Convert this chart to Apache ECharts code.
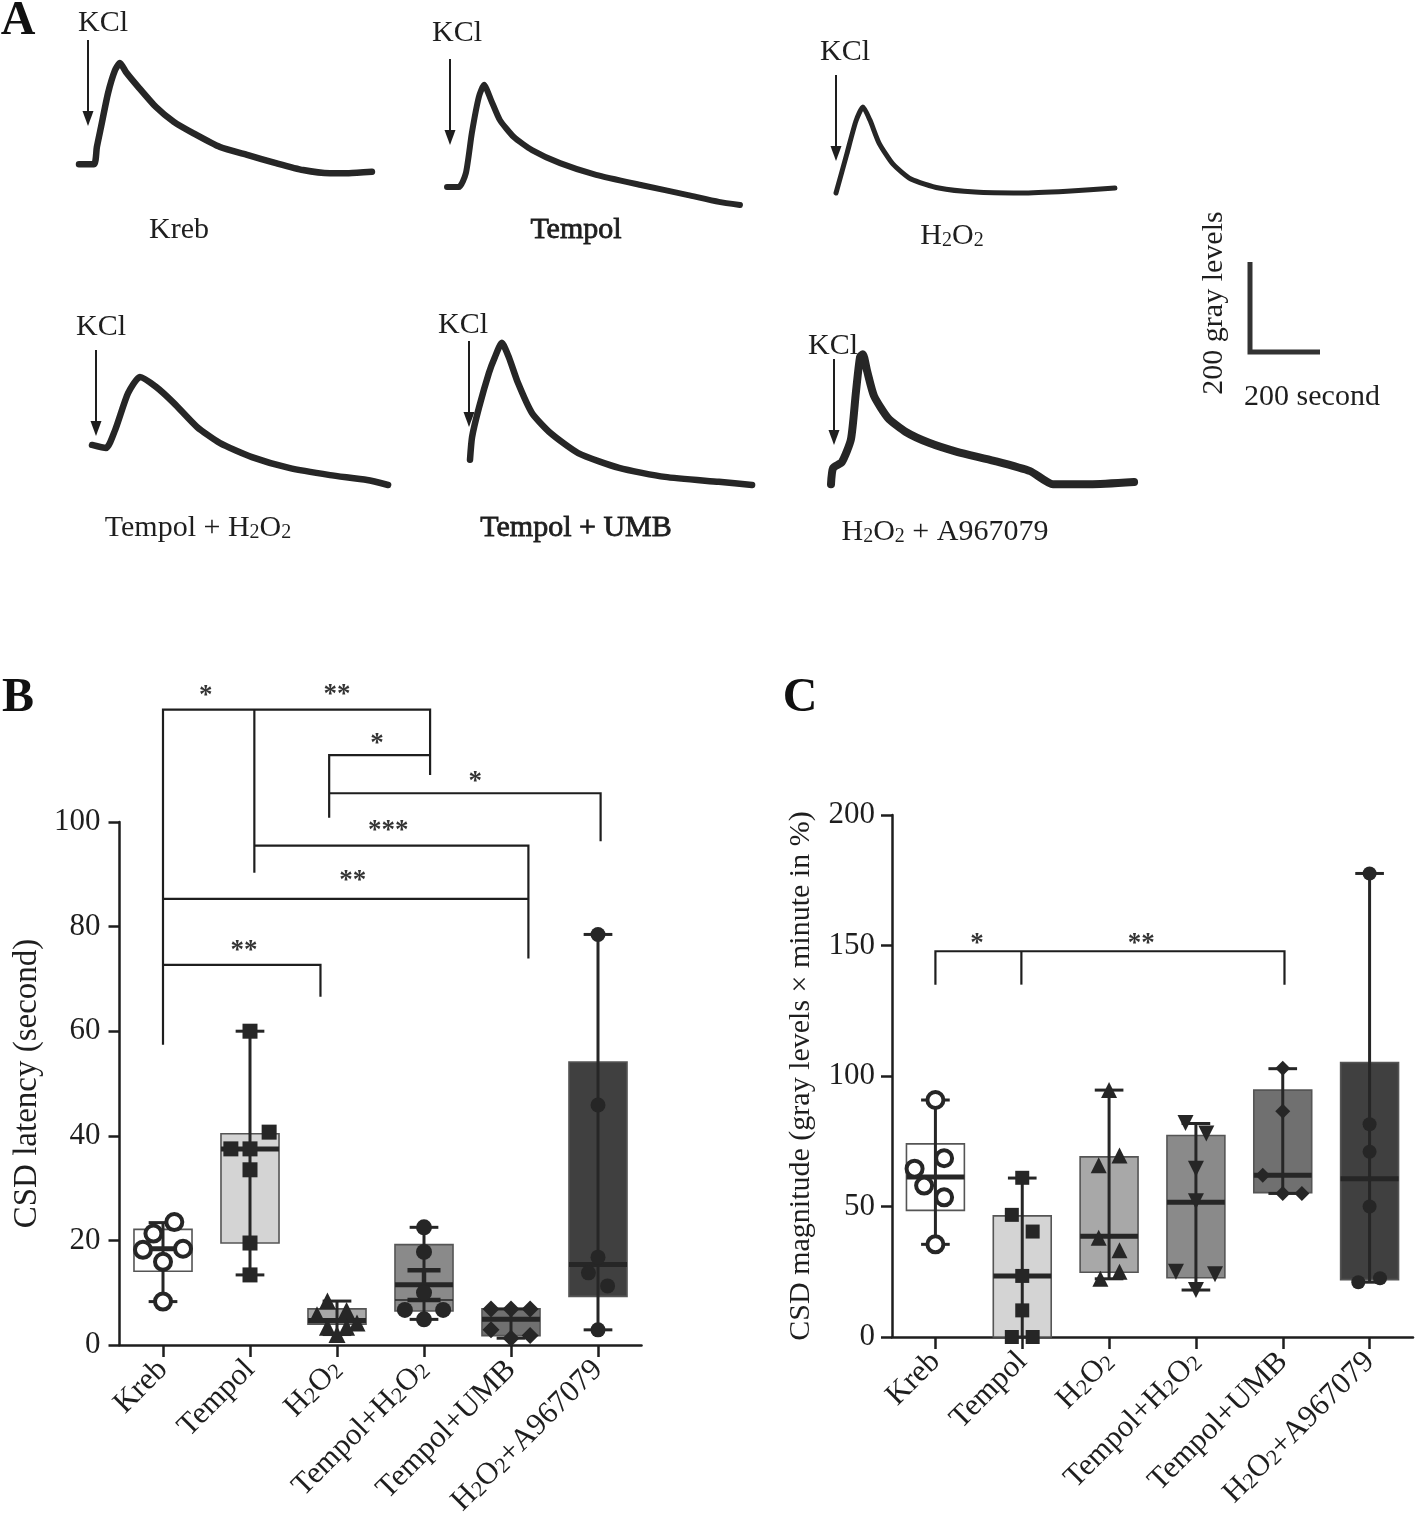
<!DOCTYPE html>
<html>
<head>
<meta charset="utf-8">
<script src="https://cdn.jsdelivr.net/npm/echarts@6/dist/echarts.min.js"></script>
<style>
html,body{margin:0;padding:0;background:#fff;}
#chart{width:1418px;height:1527px;}
</style>
</head>
<body>
<div id="chart"></div>
<script>
// ---------------- DATA ----------------
// Panel A traces: time since start of trace (s) and gray level above trace minimum
const krebT   = [0,43,51,63,83,103,117,134,169,220,271,326,403,483,560,640,717,771,837];
const krebV   = [24,24,62,107,182,233,249,229,196,151,118,93,62,44,27,11,4,4,7];
const tempolT = [0,34,54,71,91,106,126,151,191,243,323,426,557,689,777,837];
const tempolV = [40,40,71,160,240,267,233,189,151,122,93,67,44,22,7,0];
const h2o2T   = [0,31,57,77,97,123,163,214,294,397,529,660,797];
const h2o2V   = [0,87,160,191,162,111,64,31,11,2,0,4,11];
const tempolH2o2T = [0,40,66,103,137,183,234,300,366,457,563,680,786,846];
const tempolH2o2V = [89,82,122,204,240,218,182,129,93,62,38,22,11,0];
const tempolUmbT  = [0,6,26,54,71,91,111,137,177,229,309,426,557,711,806];
const tempolUmbV  = [56,107,173,249,284,316,284,227,160,116,71,38,18,7,0];
const h2o2AT  = [0,6,31,57,71,83,91,103,123,163,214,280,360,466,569,634,740,866];
const h2o2AV  = [4,40,53,104,207,287,293,256,200,151,120,96,76,56,33,4,4,9];
const scaleBar = [[0,200],[0,0],[200,0]]; // 200 gray levels / 200 second

// Panels B & C
const groups = ['Kreb','Tempol','H2O2','Tempol+H2O2','Tempol+UMB','H2O2+A967079'];
const latencyTicks = [0,20,40,60,80,100];
const magnitudeTicks = [0,50,100,150,200];
// [min, q1, median, q3, max]
const latencyBox = [[8.3,14.1,18.4,22.1,23.4],[13.4,19.5,37.5,40.4,60],[2.0,4.0,4.7,6.9,8.4],
                    [4.9,6.5,11.5,19.2,22.5],[1.3,1.8,4.9,6.9,6.9],[2.9,9.3,15.4,54.1,78.5]];
const latencySem = [[3,8.6,14.3]]; // [group, low, high]
// points: [offset within group, value]
const latencyPoints = [
  [[0.13,23.5],[-0.11,21.3],[-0.23,18.2],[0.23,18.4],[0,15.9],[0,8.3]],
  [[0,60],[0.22,40.7],[-0.22,37.5],[0,37.5],[0,33.5],[0,19.5],[0,13.4]],
  [[-0.11,8.4],[0.11,6.6],[-0.23,5.8],[0.23,4.2],[-0.11,3.4],[0.11,3.4],[0,2.0]],
  [[0,22.5],[0,17.8],[0,10],[-0.22,6.7],[0.22,6.7],[0,4.9]],
  [[-0.23,6.9],[0,6.9],[0.22,6.9],[-0.23,2.9],[0,1.3],[0.22,1.8]],
  [[0,78.5],[0,45.9],[0,16.8],[-0.11,13.8],[0.11,11.3],[0,2.9]]
];
const magnitudeBox = [[35.5,48.5,61.3,74,90.8],[0,0,23.4,46.4,60.9],[22.3,24.8,38.6,69,94.6],
                      [18,22.7,51.6,77.2,81.8],[55,55.3,62,94.6,102.8],[21,22,60.6,105.2,177.6]];
const magnitudePoints = [
  [[0,90.8],[0.1,68.5],[-0.24,64.5],[-0.13,58],[0.1,53.5],[0,35.5]],
  [[0,61],[-0.12,46.8],[0.12,40.4],[0,23.4],[0,10.2],[-0.12,0],[0.12,0]],
  [[0,94.6],[0.12,69.5],[-0.12,65.8],[-0.12,38],[0.12,33.2],[0.12,25],[-0.1,22.3]],
  [[-0.12,82],[0.12,78],[0,64.5],[0,52],[-0.23,25],[0.22,24],[0,18]],
  [[0,103],[0,86.5],[-0.23,62],[0,55],[0.22,55]],
  [[0,177.6],[0,81.5],[0,71],[0,50],[-0.13,21],[0.12,22.5]]
];
// significance brackets (group position, value)
const latencyBrackets = [
  [[0,57.4],[0,121.5],[3.07,121.5],[3.07,109]],
  [[1.05,121.5],[1.05,90.3]],
  [[1.91,100.8],[1.91,112.8],[3.07,112.8]],
  [[1.91,105.5],[5.03,105.5],[5.03,96.3]],
  [[1.05,95.5],[4.2,95.5],[4.2,73.9]],
  [[0,85.3],[4.2,85.3]],
  [[0,72.7],[1.81,72.7],[1.81,66.6]]
];
const latencyStars = [[0.49,124.0,'*'],[2.0,124.3,'**'],[2.46,115.0,'*'],[3.59,107.7,'*'],
                      [2.59,98.2,'***'],[2.18,88.8,'**'],[0.93,75.3,'**']];
const magnitudeBrackets = [
  [[0,135],[0,147.8],[4.02,147.8],[4.02,135]],
  [[0.99,147.8],[0.99,135]]
];
const magnitudeStars = [[0.48,150.5,'*'],[2.37,150.5,'**']];

// ---------------- STYLE ----------------
const SERIF = "'Liberation Serif','Times New Roman',serif";
const INK = '#1e1e1e';
const boxFill = ['#ffffff','#d4d4d4','#a8a8a8','#8a8a8a','#707070','#404040'];
const symB = ['circle','rect','triangle','circle','diamond','circle'];
const sizeB = [19,15,17,16,17,15];
const symC = ['circle','rect','triangle','triangle','diamond','circle'];
const rotC = [0,0,0,180,0,0];
const sizeC = [19,14,16,16,15,14];

// ---------------- LAYOUT ----------------
const PX_PER_S = 70/200, PX_PER_G = 90/200;
const T_MAX = 900, G_MAX = 330;
const traces = [
  {t:krebT, v:krebV, left:79, bottom:175, w:6.5},
  {t:tempolT, v:tempolV, left:447, bottom:205, w:6},
  {t:h2o2T, v:h2o2V, left:836, bottom:193, w:5},
  {t:tempolH2o2T, v:tempolH2o2V, left:92, bottom:485, w:6.5},
  {t:tempolUmbT, v:tempolUmbV, left:470, bottom:485, w:6.5},
  {t:h2o2AT, v:h2o2AV, left:831, bottom:486, w:8}
];

const grid = [], xAxis = [], yAxis = [], series = [];
traces.forEach((tr, i) => {
  const h = G_MAX*PX_PER_G;
  grid.push({left:tr.left, top:tr.bottom-h, width:T_MAX*PX_PER_S, height:h, outerBoundsMode:'none'});
  xAxis.push({type:'value', gridIndex:i, min:0, max:T_MAX, show:false});
  yAxis.push({type:'value', gridIndex:i, min:0, max:G_MAX, show:false});
  series.push({type:'line', xAxisIndex:i, yAxisIndex:i, data:tr.t.map((t,k)=>[t,tr.v[k]]),
    showSymbol:false, smooth:0.2, clip:false, silent:true,
    lineStyle:{color:'#262626', width:tr.w, cap:'round', join:'round'}});
});
// scale bar grid (index 6)
grid.push({left:1250, top:352-200*PX_PER_G, width:200*PX_PER_S, height:200*PX_PER_G, outerBoundsMode:'none'});
xAxis.push({type:'value', gridIndex:6, min:0, max:200, show:false});
yAxis.push({type:'value', gridIndex:6, min:0, max:200, show:false});
series.push({type:'line', xAxisIndex:6, yAxisIndex:6, data:scaleBar, showSymbol:false, clip:false,
  lineStyle:{color:'#333', width:5, join:'miter'}});

// Panel B (grid 7) and C (grid 8)
grid.push({left:119.5, top:822, width:522, height:523, outerBoundsMode:'none'});
grid.push({left:892, top:815, width:521, height:522, outerBoundsMode:'none'});

function catLabel(v){ return v.split('2').join('{s|2}'); }
function catAxis(gi){
  return {type:'category', gridIndex:gi, data:groups, boundaryGap:true,
    axisLine:{show:true, onZero:false, lineStyle:{color:INK, width:2.5}},
    axisTick:{show:true, alignWithLabel:true, length:12, lineStyle:{color:INK, width:2.5}},
    axisLabel:{interval:0, rotate:45, margin:20, color:INK, fontFamily:SERIF, fontSize:31,
      formatter:catLabel,
      rich:{s:{fontSize:22, fontFamily:SERIF, color:INK, lineHeight:22, verticalAlign:'bottom'}}},
    splitLine:{show:false}};
}
function valAxis(gi){
  return {type:'value', gridIndex:gi, min:-0.5, max:5.5, show:false};
}
xAxis.push(catAxis(7));   // 7
xAxis.push(valAxis(7));   // 8
xAxis.push(catAxis(8));   // 9
xAxis.push(valAxis(8));   // 10

function yVal(gi, ticks, name, fs, labFs, gap, margin){
  return {type:'value', gridIndex:gi, min:ticks[0], max:ticks[ticks.length-1],
    interval:ticks[1]-ticks[0],
    axisLine:{show:true, onZero:false, lineStyle:{color:INK, width:2.5}},
    axisTick:{show:true, length:11, lineStyle:{color:INK, width:2.5}},
    axisLabel:{color:INK, fontFamily:SERIF, fontSize:labFs, margin:margin},
    splitLine:{show:false},
    name:name, nameLocation:'middle', nameGap:gap, nameRotate:90,
    nameTextStyle:{color:INK, fontFamily:SERIF, fontSize:fs}};
}
yAxis.push(yVal(7, latencyTicks, 'CSD latency (second)', 33, 31, 76, 19));
yAxis.push(yVal(8, magnitudeTicks, 'CSD magnitude (gray levels \u00d7 minute in %)', 30, 31, 76, 17));

function boxRender(params, api){
  const i = api.value(0);
  const lo = api.coord([i, api.value(1)]);
  const q1 = api.coord([i, api.value(2)]);
  const md = api.coord([i, api.value(3)]);
  const q3 = api.coord([i, api.value(4)]);
  const hi = api.coord([i, api.value(5)]);
  const band = api.size([1,0])[0];
  const bw = band*0.667, cw = band*0.33, x = md[0];
  return {type:'group', children:[
    {type:'rect', shape:{x:x-bw/2, y:q3[1], width:bw, height:Math.max(q1[1]-q3[1],0.5)},
      style:{fill:boxFill[i], stroke:'#555', lineWidth:1.6}},
    {type:'line', shape:{x1:x, y1:hi[1], x2:x, y2:lo[1]}, style:{stroke:'#262626', lineWidth:3}},
    {type:'line', shape:{x1:x-cw/2, y1:hi[1], x2:x+cw/2, y2:hi[1]}, style:{stroke:'#262626', lineWidth:3}},
    {type:'line', shape:{x1:x-cw/2, y1:lo[1], x2:x+cw/2, y2:lo[1]}, style:{stroke:'#262626', lineWidth:3}},
    {type:'line', shape:{x1:x-bw/2, y1:md[1], x2:x+bw/2, y2:md[1]}, style:{stroke:'#262626', lineWidth:5}}
  ]};
}
function semRender(params, api){
  const i = api.value(0);
  const lo = api.coord([i, api.value(1)]);
  const hi = api.coord([i, api.value(2)]);
  const band = api.size([1,0])[0];
  const cw = band*0.38, x = lo[0];
  const st = {stroke:'#262626', lineWidth:4.5};
  return {type:'group', children:[
    {type:'line', shape:{x1:x, y1:hi[1], x2:x, y2:lo[1]}, style:st},
    {type:'line', shape:{x1:x-cw/2, y1:hi[1], x2:x+cw/2, y2:hi[1]}, style:st},
    {type:'line', shape:{x1:x-cw/2, y1:lo[1], x2:x+cw/2, y2:lo[1]}, style:st},
    {type:'line', shape:{x1:x-band*0.333, y1:lo[1], x2:x+band*0.333, y2:lo[1]}, style:{stroke:'#262626', lineWidth:1.5}}
  ]};
}

function addPanel(catIdx, valIdx, yIdx, box, pts, syms, sizes, rots, brackets, stars, starFs){
  series.push({type:'custom', xAxisIndex:catIdx, yAxisIndex:yIdx, renderItem:boxRender,
    data:box.map((b,i)=>[i].concat(b)), encode:{x:0, y:[1,2,3,4,5]}, silent:true, z:2});
  pts.forEach((arr, i) => {
    const open = i === 0;
    series.push({type:'scatter', xAxisIndex:valIdx, yAxisIndex:yIdx, z:5, silent:true,
      symbol:syms[i], symbolSize:open ? sizes[i]-3 : sizes[i], symbolRotate:rots ? rots[i] : 0,
      data:arr.map(p=>[i+p[0], p[1]]), clip:false,
      itemStyle: open ? {color:'#ffffff', borderColor:'#262626', borderWidth:4, opacity:1}
                      : {color:'#262626', opacity:1}});
  });
  brackets.forEach(b => {
    series.push({type:'line', xAxisIndex:valIdx, yAxisIndex:yIdx, data:b, showSymbol:false,
      symbol:'none', clip:false, silent:true, z:3,
      lineStyle:{color:INK, width:2.2, join:'miter', cap:'butt'}});
  });
  series.push({type:'scatter', xAxisIndex:valIdx, yAxisIndex:yIdx, clip:false, silent:true, z:6,
    symbolSize:1, itemStyle:{color:'rgba(0,0,0,0)'},
    data:stars.map(s=>({name:s[2], value:[s[0], s[1]]})),
    label:{show:true, position:'inside', formatter:'{b}', color:'#000', textBorderWidth:0,
      textBorderColor:'transparent', fontFamily:SERIF, fontWeight:'bold', fontSize:starFs}});
}
addPanel(7, 8, 7, latencyBox, latencyPoints, symB, sizeB, null, latencyBrackets, latencyStars, 27);
series.push({type:'custom', xAxisIndex:7, yAxisIndex:7, renderItem:semRender,
  data:latencySem, encode:{x:0, y:[1,2]}, silent:true, z:4});
addPanel(9, 10, 8, magnitudeBox, magnitudePoints, symC, sizeC, rotC, magnitudeBrackets, magnitudeStars, 27);

// ---------------- ANNOTATIONS ----------------
const subRich = {s:{fontSize:20, fontFamily:SERIF, fill:INK, lineHeight:12, verticalAlign:'bottom'}};
function txt(x, y, text, size, extra, heavy){
  const style = {text:text, fill:INK, font:size+'px '+SERIF, align:'center', verticalAlign:'middle', rich:subRich};
  if (heavy) { style.stroke = INK; style.lineWidth = 0.8; }
  return Object.assign({type:'text', x:x, y:y, silent:true, style:style}, extra||{});
}
function arrow(x, y1, y2){
  return [
    {type:'line', silent:true, shape:{x1:x, y1:y1, x2:x, y2:y2-10}, style:{stroke:INK, lineWidth:2}},
    {type:'polygon', silent:true, shape:{points:[[x-5.5,y2-15],[x+5.5,y2-15],[x,y2]]}, style:{fill:INK}}
  ];
}
const kclLabels = [[103,23],[457,33],[845,52],[101,327],[463,325],[833,346]];
const kclArrows = [[88,40,126],[450,59,145],[836,75,161],[96,350,436],[469,341,427],[834,359,445]];
const traceNames = [[179,230,'Kreb',false],[576,230,'Tempol',true],[952,236,'H{s|2}O{s|2}',false],
  [198,528,'Tempol + H{s|2}O{s|2}',false],[576,528,'Tempol + UMB',true],[945,532,'H{s|2}O{s|2} + A967079',false]];
const elements = [];
function letter(x, y, t){
  return {type:'text', x:x, y:y, silent:true,
    style:{text:t, fill:'#111', font:'bold 48px '+SERIF, align:'center', verticalAlign:'middle'}};
}
elements.push(letter(18,22,'A'));
elements.push(letter(18,699,'B'));
elements.push(letter(800,699,'C'));
kclLabels.forEach(p => elements.push(txt(p[0], p[1], 'KCl', 30)));
kclArrows.forEach(a => arrow(a[0], a[1], a[2]).forEach(e => elements.push(e)));
traceNames.forEach(p => elements.push(txt(p[0], p[1], p[2], 30, null, p[3])));
elements.push(txt(1214, 303, '200 gray levels', 30, {rotation:Math.PI/2}));
elements.push(txt(1312, 397, '200 second', 30));

const chart = echarts.init(document.getElementById('chart'), null, {renderer:'canvas'});
chart.setOption({
  backgroundColor:'#ffffff',
  animation:false,
  grid:grid, xAxis:xAxis, yAxis:yAxis, series:series,
  graphic:{elements:elements}
});
</script>
</body>
</html>
